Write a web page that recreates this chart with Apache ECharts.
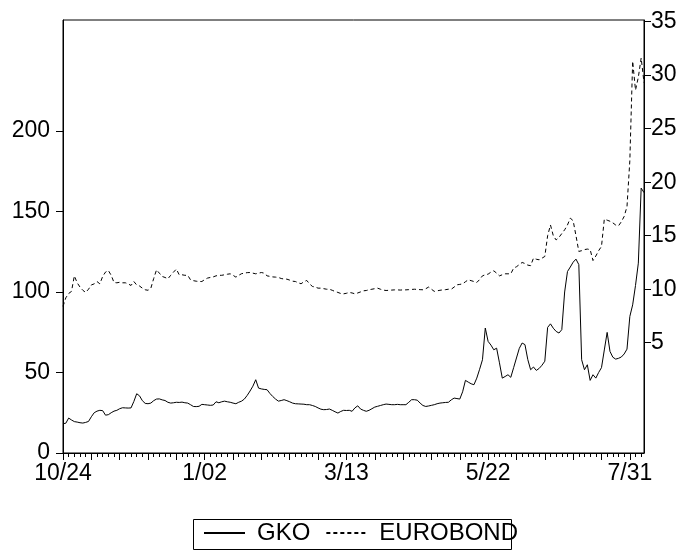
<!DOCTYPE html>
<html><head><meta charset="utf-8">
<script src="https://cdn.jsdelivr.net/npm/echarts@6/dist/echarts.min.js"></script>
<style>html,body{margin:0;padding:0;background:#fff}#c{width:685px;height:554px}</style>
</head><body><div id="c"></div>
<script>
// GKO yields (left axis), business days from 10/24/1997
const gko = [
18.2,18.5,21.7,20.5,19.5,19.2,18.8,18.6,19.0,19.6,
22.5,25.0,26.0,26.5,26.3,23.5,23.8,25.0,26.0,26.5,
27.5,28.1,28.0,27.9,28.0,32.0,36.8,35.5,32.5,30.8,
30.6,31.0,32.5,33.5,33.6,33.0,32.6,31.5,31.0,31.2,
31.5,31.4,31.6,31.2,31.0,30.0,28.9,28.8,29.0,30.2,
30.0,29.8,29.6,29.8,31.8,31.2,31.8,32.2,31.8,31.5,
31.0,30.6,31.5,32.2,33.5,35.8,38.5,41.5,45.5,40.3,
39.8,39.5,39.3,37.0,35.1,33.5,32.2,32.6,33.1,32.5,
31.8,31.0,30.6,30.5,30.4,30.3,30.0,30.0,29.5,28.9,
28.0,27.2,26.9,27.0,27.3,26.5,25.6,24.8,25.8,26.5,
26.4,26.5,25.9,28.0,29.3,27.3,26.5,25.9,26.5,27.5,
28.5,29.0,29.5,30.0,30.4,30.2,30.0,30.0,30.2,30.0,
30.0,30.0,31.5,33.1,33.1,32.8,31.0,29.5,28.9,29.2,
29.6,30.0,30.6,31.0,31.2,31.4,31.5,33.0,34.1,33.8,
33.5,38.0,45.1,44.0,43.0,42.4,46.5,52.0,57.9,77.6,
69.3,67.0,64.1,65.1,56.0,46.5,47.5,48.6,47.0,53.0,
59.0,65.0,68.3,67.3,58.0,51.7,53.4,51.3,52.5,54.5,
57.0,78.0,80.2,77.5,75.5,74.5,76.6,100.0,112.7,115.5,
118.5,120.4,117.0,57.9,51.7,54.8,45.1,48.6,46.5,50.0,
53.0,64.0,74.9,63.1,59.5,58.3,58.8,59.6,61.5,64.5,
84.8,92.0,104.0,117.9,164.5,161.7
];
// EUROBOND yields (right axis)
const eurobond = [
8.4,9.2,9.6,9.8,11.25,10.6,10.2,9.9,9.7,10.0,
10.4,10.5,10.72,10.5,11.2,11.6,11.75,11.3,10.63,10.6,
10.65,10.6,10.6,10.5,10.35,10.72,10.4,10.3,10.1,9.95,
9.9,10.1,11.0,11.81,11.5,11.19,11.1,10.97,11.3,11.6,
11.88,11.35,11.35,11.3,11.3,10.88,10.8,10.75,10.72,10.72,
10.9,11.04,11.1,11.15,11.25,11.3,11.3,11.35,11.4,11.44,
11.3,11.13,11.3,11.45,11.5,11.55,11.56,11.5,11.44,11.5,
11.56,11.5,11.25,11.2,11.15,11.13,11.1,11.0,10.95,10.94,
10.85,10.75,10.72,10.6,10.51,10.7,10.82,10.5,10.26,10.2,
10.1,10.1,10.05,10.0,10.0,9.9,9.79,9.7,9.6,9.57,
9.62,9.7,9.65,9.57,9.65,9.75,9.85,9.88,9.95,10.0,
10.05,10.1,10.0,9.92,9.88,9.9,9.92,9.94,9.94,9.92,
9.94,9.94,9.96,9.98,10.0,9.98,9.96,9.95,10.05,10.2,
10.0,9.8,9.85,9.9,9.94,9.96,10.0,10.0,10.2,10.41,
10.45,10.5,10.7,10.88,10.8,10.72,10.63,10.9,11.25,11.35,
11.41,11.6,11.72,11.5,11.25,11.35,11.44,11.44,11.44,11.97,
12.1,12.3,12.5,12.4,12.25,12.2,12.9,12.8,12.75,12.9,
13.06,15.0,16.0,15.0,14.6,14.84,15.2,15.55,16.0,16.64,
16.4,15.0,13.53,13.6,13.7,13.75,13.7,12.68,13.1,13.6,
14.0,16.55,16.45,16.35,16.2,16.0,15.92,16.3,16.8,17.72,
22.0,31.3,28.6,29.8,31.6,29.3
];
const leftTicks = [0, 50, 100, 150, 200];
const rightTicks = [5, 10, 15, 20, 25, 30, 35];
const xTickLabels = ['10/24', '1/02', '3/13', '5/22', '7/31'];

// business-day categories starting 10/24/1997
const dates = [];
{
  const d = new Date(Date.UTC(1997, 9, 24));
  while (dates.length < gko.length) {
    const wd = d.getUTCDay();
    if (wd !== 0 && wd !== 6) {
      dates.push((d.getUTCMonth() + 1) + '/' + String(d.getUTCDate()).padStart(2, '0'));
    }
    d.setUTCDate(d.getUTCDate() + 1);
  }
}

const FONT = '"Liberation Sans", Arial, sans-serif';
const AXFS = 23;
const chart = echarts.init(document.getElementById('c'), null, {renderer: 'canvas'});
chart.setOption({
  animation: false,
  backgroundColor: '#fff',
  grid: {
    left: 63, right: 41, top: 20, bottom: 101,
    show: true, borderColor: '#000', borderWidth: 1,
    containLabel: false, outerBoundsMode: 'none'
  },
  xAxis: [{
    type: 'category', data: dates, boundaryGap: false, position: 'bottom',
    axisLine: {onZero: false, lineStyle: {color: '#000', width: 1}},
    axisTick: {interval: 9, length: 7, lineStyle: {color: '#000'}},
    axisLabel: {
      interval: 49, margin: 9, color: '#000', fontSize: AXFS, fontFamily: FONT,
      formatter: v => xTickLabels.includes(v) ? v : ''
    },
    splitLine: {show: false}
  }, {
    type: 'category', data: dates, boundaryGap: false, position: 'bottom',
    axisLine: {show: false, onZero: false},
    axisTick: {interval: 1, length: 4, lineStyle: {color: '#000'}},
    axisLabel: {show: false},
    splitLine: {show: false}
  }],
  yAxis: [{
    type: 'value', min: 0, max: 268.9, position: 'left',
    axisLine: {show: true, onZero: false, lineStyle: {color: '#000'}},
    axisTick: {show: true, length: 7, customValues: leftTicks, lineStyle: {color: '#000'}},
    axisLabel: {customValues: leftTicks, margin: 13, color: '#000', fontSize: AXFS, fontFamily: FONT},
    splitLine: {show: false}
  }, {
    type: 'value', min: -5.3, max: 35.15, position: 'right',
    axisLine: {show: true, onZero: false, lineStyle: {color: '#000'}},
    axisTick: {show: true, length: 7, customValues: rightTicks, lineStyle: {color: '#000'}},
    axisLabel: {customValues: rightTicks, margin: 7, color: '#000', fontSize: AXFS, fontFamily: FONT},
    splitLine: {show: false}
  }],
  legend: {
    left: 203, top: 521, padding: 0, itemGap: 15,
    itemWidth: 41, itemHeight: 14,
    itemStyle: {color: 'rgba(0,0,0,0)', borderColor: 'rgba(0,0,0,0)', borderWidth: 0, opacity: 0},
    textStyle: {color: '#000', fontSize: 24, fontFamily: FONT, padding: [0, 0, 0, 7]},
    data: ['GKO', 'EUROBOND']
  },
  graphic: [{
    type: 'rect', shape: {x: 193.5, y: 519.5, width: 318, height: 30},
    style: {fill: 'none', stroke: '#000', lineWidth: 1}, z: 10
  }],
  series: [{
    name: 'GKO', type: 'line', data: gko, xAxisIndex: 0, yAxisIndex: 0,
    symbol: 'none', lineStyle: {color: '#000', width: 1, type: 'solid'},
    itemStyle: {color: '#000'}
  }, {
    name: 'EUROBOND', type: 'line', data: eurobond, xAxisIndex: 0, yAxisIndex: 1,
    symbol: 'none', lineStyle: {color: '#000', width: 1, type: [4, 3]},
    itemStyle: {color: '#000'}
  }]
});
</script></body></html>
